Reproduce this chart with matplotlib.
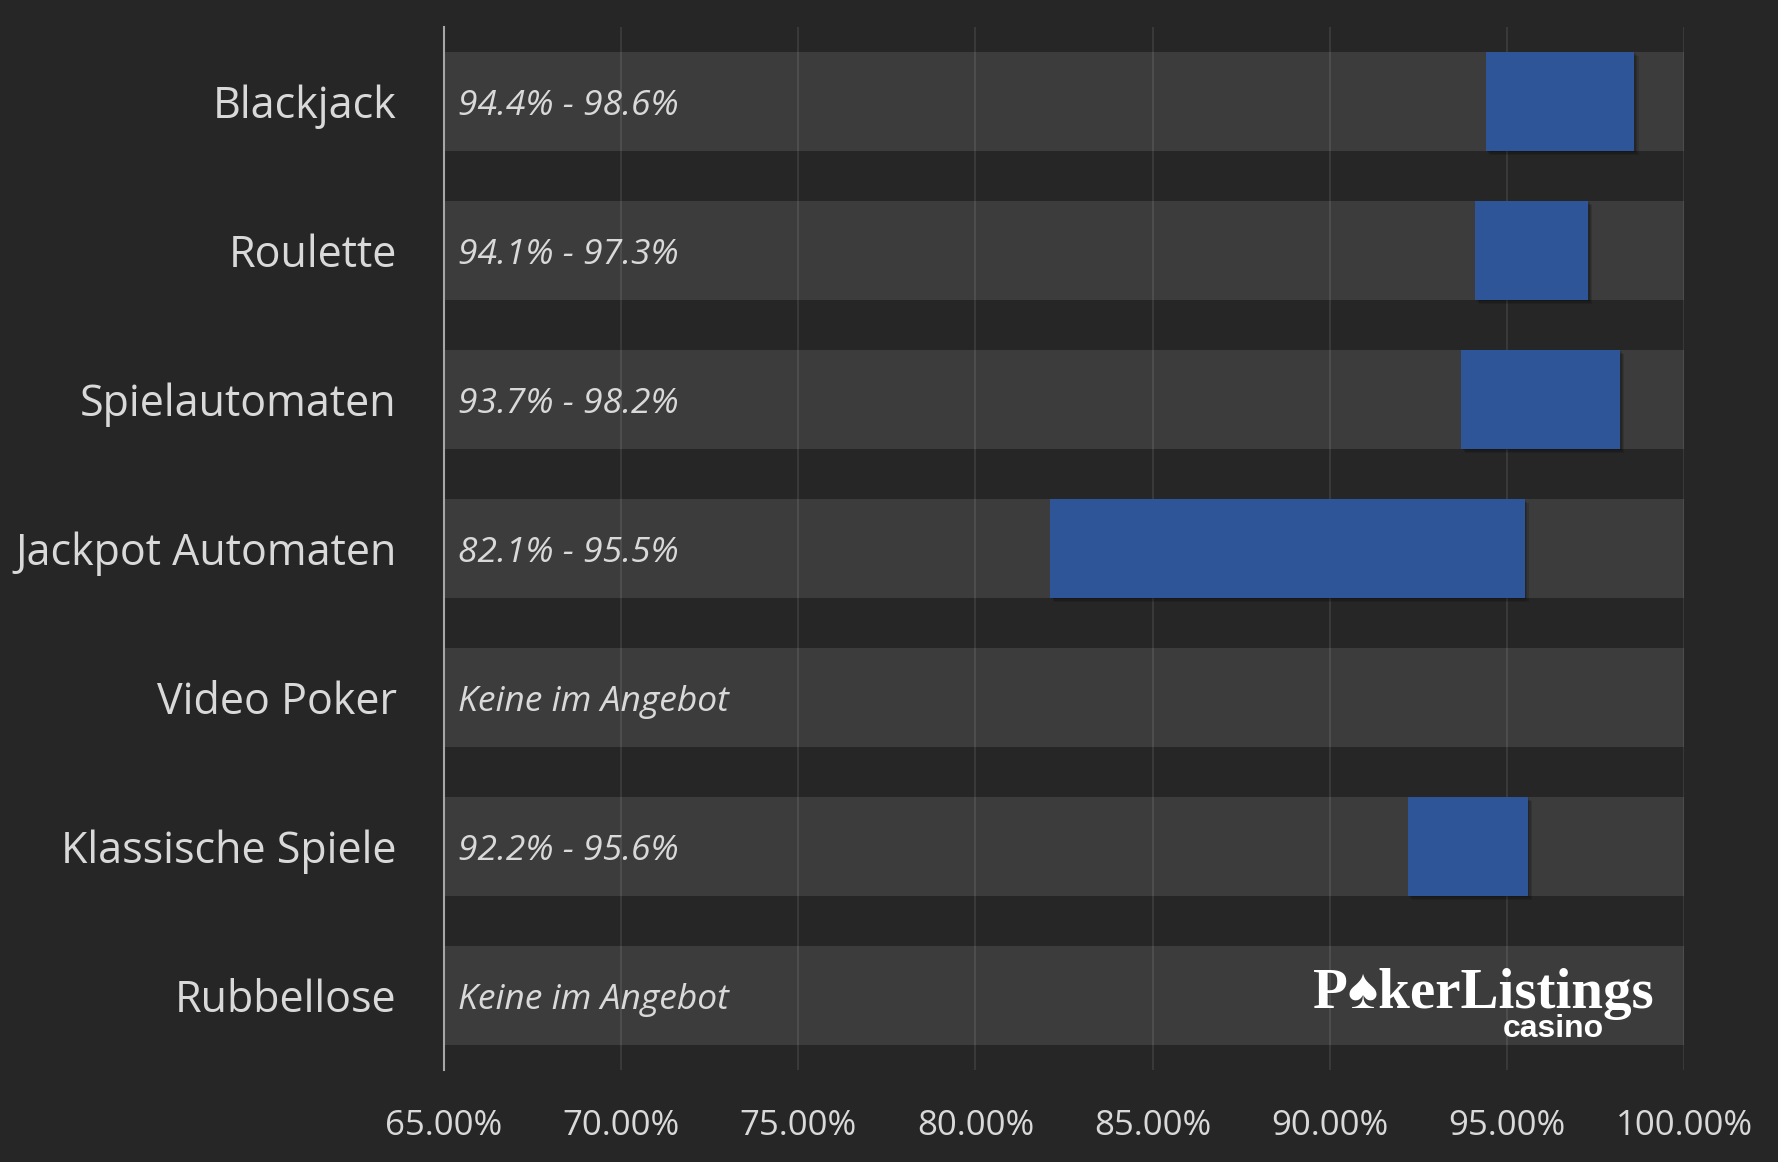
import matplotlib
matplotlib.use("Agg")
import matplotlib.pyplot as plt
import matplotlib.patheffects as pe
import matplotlib.transforms as mtransforms

categories = ["Blackjack", "Roulette", "Spielautomaten", "Jackpot Automaten",
              "Video Poker", "Klassische Spiele", "Rubbellose"]
low = [94.4, 94.1, 93.7, 82.1, None, 92.2, None]
high = [98.6, 97.3, 98.2, 95.5, None, 95.6, None]
range_labels = ["94.4% - 98.6%", "94.1% - 97.3%", "93.7% - 98.2%", "82.1% - 95.5%",
                "Keine im Angebot", "92.2% - 95.6%", "Keine im Angebot"]
xticks = [65, 70, 75, 80, 85, 90, 95, 100]
xtick_labels = ["65.00%", "70.00%", "75.00%", "80.00%", "85.00%", "90.00%", "95.00%", "100.00%"]

BG = "#262626"
BAND = "#3c3c3c"
BAR = "#2e5597"
TXT = "#d9d9d9"

plt.rcParams['font.family'] = ['Open Sans', 'DejaVu Sans']

fig = plt.figure(figsize=(17.78, 11.62), dpi=100, facecolor=BG)
ax = fig.add_axes([0.2497, 0.0792, 0.9471 - 0.2497, 0.9768 - 0.0792])
ax.set_facecolor(BG)
ax.set_xlim(65, 100)
ax.set_ylim(len(categories) - 0.5, -0.5)

bh = 0.664
ypos = list(range(len(categories)))
# background bands
ax.barh(ypos, [100 - 65] * len(categories), left=65, height=bh, color=BAND, zorder=1)
# gridlines
for x in xticks[1:]:
    ax.axvline(x, color="white", alpha=0.09, lw=1.5, zorder=2)
# range bars
for i, (lo, hi) in enumerate(zip(low, high)):
    if lo is None:
        continue
    bars = ax.barh(i, hi - lo, left=lo, height=bh, color=BAR, zorder=3)
    for b in bars:
        b.set_path_effects([
            pe.SimplePatchShadow(offset=(3, -3), shadow_rgbFace="black", alpha=0.12),
            pe.SimplePatchShadow(offset=(2, -2), shadow_rgbFace="black", alpha=0.15),
            pe.SimplePatchShadow(offset=(1, -1), shadow_rgbFace="black", alpha=0.15),
            pe.Normal()])

# range labels
offset = mtransforms.offset_copy(ax.transData, fig=fig, x=14, y=-5, units='dots')
for i, lab in enumerate(range_labels):
    ax.text(65, i, lab, transform=offset, ha="left", va="center", fontsize=25.5,
            style="italic", color=TXT, zorder=5)

# axes styling
for s in ["top", "right", "bottom"]:
    ax.spines[s].set_visible(False)
ax.spines["left"].set_color("#a6a6a6")
ax.spines["left"].set_linewidth(1.5)
ax.spines["left"].set_zorder(6)

ax.set_yticks(ypos)
ax.set_yticklabels(categories, fontsize=31, color=TXT)
ax.set_xticks(xticks)
ax.set_xticklabels(xtick_labels, fontsize=25, color=TXT)
ax.tick_params(axis="y", length=0, pad=34)
ax.tick_params(axis="x", length=0, pad=28)

# logo
fig.text(1313 / 1778, 1 - 1008 / 1162, "P\u2660kerListings", fontsize=41, fontweight="bold",
         family=["Liberation Serif", "DejaVu Sans"], color="white", ha="left", va="baseline")
fig.text(1553 / 1778, 1 - 1037 / 1162, "casino", fontsize=23, fontweight="bold",
         family=["Liberation Sans", "DejaVu Sans"], color="white", ha="center", va="baseline")

fig.savefig("out.png", dpi=100, facecolor=BG)
